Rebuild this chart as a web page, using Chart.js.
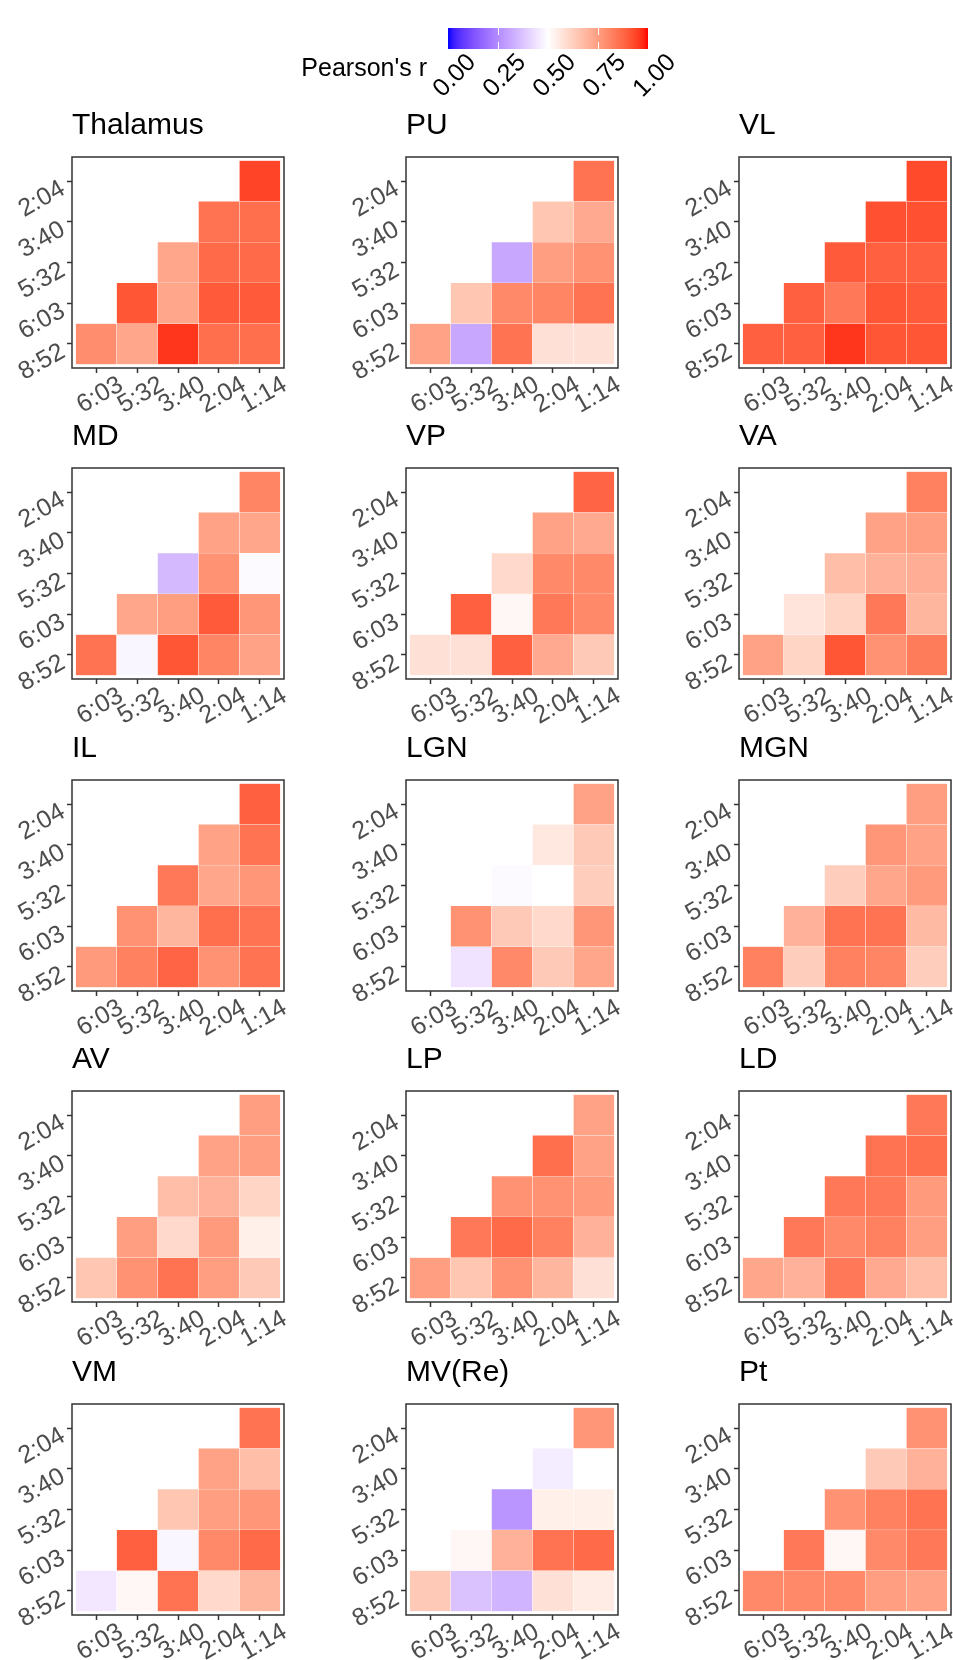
<!DOCTYPE html>
<html>
<head>
<meta charset="utf-8">
<script src="https://cdn.jsdelivr.net/npm/chart.js@4.4.3/dist/chart.umd.min.js"></script>
<style>
  html, body { margin: 0; padding: 0; background: #fff; overflow: hidden; }
  body { width: 953px; height: 1660px; position: relative; }
  canvas { position: absolute; }
</style>
</head>
<body>
<canvas id="legend" width="400" height="110"></canvas>
<div id="panels"></div>
<script>
  /* ── Data ─────────────────────────────────────────────────────────────── */
  const xLabels = ["6:03", "5:32", "3:40", "2:04", "1:14"];
  const yLabels = ["8:52", "6:03", "5:32", "3:40", "2:04"];
  const regions = ["Thalamus", "PU", "VL", "MD", "VP", "VA", "IL", "LGN", "MGN",
                   "AV", "LP", "LD", "VM", "MV(Re)", "Pt"];

  // cells per region, row by row from 8:52 (5 cells) up to 2:04 (1 cell), left to right
  const thalamus = [0.79, 0.73, 0.96, 0.86, 0.86,  0.91, 0.73, 0.90, 0.90,  0.73, 0.87, 0.87,  0.85, 0.86,  0.94];
  const pu       = [0.74, 0.31, 0.85, 0.58, 0.58,  0.65, 0.80, 0.81, 0.85,  0.31, 0.75, 0.78,  0.65, 0.72,  0.85];
  const vl       = [0.89, 0.89, 0.96, 0.91, 0.91,  0.89, 0.84, 0.91, 0.90,  0.90, 0.89, 0.89,  0.92, 0.92,  0.93];
  const md       = [0.85, 0.48, 0.91, 0.81, 0.74,  0.73, 0.75, 0.90, 0.77,  0.35, 0.78, 0.49,  0.74, 0.73,  0.81];
  const vp       = [0.58, 0.58, 0.89, 0.72, 0.64,  0.89, 0.52, 0.84, 0.80,  0.60, 0.80, 0.80,  0.74, 0.72,  0.88];
  const va       = [0.74, 0.61, 0.91, 0.78, 0.83,  0.57, 0.61, 0.84, 0.69,  0.67, 0.70, 0.71,  0.74, 0.75,  0.82];
  const il       = [0.76, 0.82, 0.88, 0.78, 0.85,  0.78, 0.69, 0.86, 0.85,  0.84, 0.73, 0.77,  0.74, 0.85,  0.89];
  const lgn      = [0.50, 0.44, 0.80, 0.64, 0.73,  0.78, 0.64, 0.60, 0.77,  0.49, 0.50, 0.63,  0.56, 0.64,  0.74];
  const mgn      = [0.82, 0.63, 0.82, 0.81, 0.63,  0.70, 0.85, 0.85, 0.68,  0.63, 0.73, 0.76,  0.77, 0.74,  0.75];
  const av       = [0.65, 0.78, 0.85, 0.75, 0.64,  0.75, 0.60, 0.76, 0.54,  0.67, 0.70, 0.61,  0.74, 0.75,  0.75];
  const lp       = [0.75, 0.65, 0.78, 0.69, 0.58,  0.84, 0.87, 0.82, 0.70,  0.78, 0.78, 0.76,  0.86, 0.74,  0.74];
  const ld       = [0.73, 0.70, 0.84, 0.72, 0.67,  0.84, 0.80, 0.82, 0.75,  0.84, 0.84, 0.76,  0.85, 0.86,  0.84];
  const vm       = [0.45, 0.52, 0.85, 0.60, 0.69,  0.89, 0.48, 0.80, 0.87,  0.65, 0.75, 0.77,  0.74, 0.67,  0.85];
  const mvre     = [0.64, 0.37, 0.34, 0.58, 0.55,  0.52, 0.70, 0.85, 0.87,  0.27, 0.54, 0.54,  0.46, 0.50,  0.77];
  const pt       = [0.80, 0.80, 0.80, 0.75, 0.74,  0.84, 0.52, 0.80, 0.84,  0.78, 0.82, 0.85,  0.64, 0.70,  0.78];

  const panelValues = [thalamus, pu, vl, md, vp, va, il, lgn, mgn, av, lp, ld, vm, mvre, pt];
  const legendTicks = [0, 0.25, 0.5, 0.75, 1];

  /* ── Colour scale: blue → white → red, interpolated in Lab ──────────── */
  const FONT = "'Liberation Sans', Arial, sans-serif";

  function toLin(c) { c /= 255; return c <= 0.04045 ? c / 12.92 : Math.pow((c + 0.055) / 1.055, 2.4); }
  function toSrgb(c) {
    c = c <= 0.0031308 ? 12.92 * c : 1.055 * Math.pow(c, 1 / 2.4) - 0.055;
    return Math.round(255 * Math.min(1, Math.max(0, c)));
  }
  function rgbToLab(rgb) {
    const [r, g, b] = rgb.map(toLin);
    const x = (0.4124564 * r + 0.3575761 * g + 0.1804375 * b) / 0.95047;
    const y = 0.2126729 * r + 0.7151522 * g + 0.0721750 * b;
    const z = (0.0193339 * r + 0.1191920 * g + 0.9503041 * b) / 1.08883;
    const f = (t) => (t > 0.008856 ? Math.cbrt(t) : 7.787 * t + 16 / 116);
    return [116 * f(y) - 16, 500 * (f(x) - f(y)), 200 * (f(y) - f(z))];
  }
  function labToRgb([L, a, bb]) {
    const fy = (L + 16) / 116, fx = fy + a / 500, fz = fy - bb / 200;
    const inv = (t) => (t * t * t > 0.008856 ? t * t * t : (t - 16 / 116) / 7.787);
    const x = inv(fx) * 0.95047, y = inv(fy), z = inv(fz) * 1.08883;
    const r = 3.2404542 * x - 1.5371385 * y - 0.4985314 * z;
    const g = -0.9692660 * x + 1.8760108 * y + 0.0415560 * z;
    const b = 0.0556434 * x - 0.2040259 * y + 1.0572252 * z;
    return [toSrgb(r), toSrgb(g), toSrgb(b)];
  }
  const LAB_WHITE = rgbToLab([255, 255, 255]);
  const LAB_RED   = rgbToLab([255, 0, 0]);
  const LAB_BLUE  = rgbToLab([0, 0, 255]);

  function colorFor(v) {
    const end = v >= 0.5 ? LAB_RED : LAB_BLUE;
    const t = Math.min(1, Math.abs(v - 0.5) / 0.5);
    const lab = LAB_WHITE.map((w, i) => w + (end[i] - w) * t);
    const [r, g, b] = labToRgb(lab);
    return `rgb(${r},${g},${b})`;
  }

  /* ── Panel frame plugin ──────────────────────────────────────────────── */
  const framePlugin = {
    id: "frame",
    afterDraw(chart) {
      const { ctx, chartArea: a } = chart;
      ctx.save();
      ctx.strokeStyle = "#333333";
      ctx.lineWidth = 1.5;
      ctx.strokeRect(a.left, a.top, a.right - a.left, a.bottom - a.top);
      ctx.restore();
    },
  };

  /* ── Panels ──────────────────────────────────────────────────────────── */
  const COL_LEFT = [72, 406, 739];
  const ROW_TOP  = [157, 468, 780, 1091, 1404];
  const AXIS_W = 72, TITLE_H = 50, PLOT_W = 212, PLOT_H = 211, XAXIS_H = 60;

  function mkPanel(idx) {
    const col = idx % 3, row = Math.floor(idx / 3);
    const canvas = document.createElement("canvas");
    canvas.width  = AXIS_W + PLOT_W + 14;
    canvas.height = TITLE_H + PLOT_H + XAXIS_H;
    canvas.style.left = (COL_LEFT[col] - AXIS_W) + "px";
    canvas.style.top  = (ROW_TOP[row] - TITLE_H) + "px";
    document.getElementById("panels").appendChild(canvas);

    const vals = panelValues[idx];
    const cells = [];
    let k = 0;
    for (let r = 0; r < yLabels.length; r++) {
      for (let c = r; c < xLabels.length; c++) {
        cells.push({ x: c, y: [r - 0.5, r + 0.5], v: vals[k++] });
      }
    }

    const tickFont = { family: FONT, size: 25 };
    const axisCommon = {
      type: "linear",
      min: -0.59,
      max: 4.59,
      offset: false,
      afterBuildTicks: (s) => { s.ticks = [0, 1, 2, 3, 4].map((v) => ({ value: v })); },
      grid: {
        display: true, drawOnChartArea: false, drawTicks: true, offset: false,
        tickLength: 5, color: "#333333", tickColor: "#333333", tickWidth: 1.5,
      },
      border: { display: false },
    };

    new Chart(canvas, {
      type: "bar",
      data: {
        datasets: [{
          data: cells,
          backgroundColor: cells.map((d) => colorFor(d.v)),
          borderColor: "rgba(255,255,255,0.3)",
          borderWidth: 0.5,
          borderSkipped: false,
          barPercentage: 1,
          categoryPercentage: 1,
        }],
      },
      options: {
        responsive: false,
        animation: false,
        devicePixelRatio: 1,
        layout: { padding: { left: 0, right: 14, top: 0, bottom: 0 } },
        plugins: {
          legend: { display: false },
          tooltip: { enabled: false },
          title: {
            display: true, text: regions[idx], align: "start", fullSize: false,
            color: "#000000", font: { family: FONT, size: 30, weight: "normal" },
            padding: { top: 1, bottom: 13 },
          },
        },
        scales: {
          x: {
            ...axisCommon,
            afterFit: (s) => { s.height = XAXIS_H; },
            ticks: {
              autoSkip: false, minRotation: 30, maxRotation: 30,
              labelOffset: 25, padding: -3, color: "#4D4D4D", font: tickFont,
              callback: (v) => xLabels[v],
            },
          },
          y: {
            ...axisCommon,
            afterFit: (s) => { s.width = AXIS_W; },
            ticks: {
              autoSkip: false, minRotation: 30, maxRotation: 30,
              labelOffset: 6, padding: 4, color: "#4D4D4D", font: tickFont,
              callback: (v) => yLabels[v],
            },
          },
        },
      },
      plugins: [framePlugin],
    });
  }

  regions.forEach((_, i) => mkPanel(i));

  /* ── Colour bar legend ───────────────────────────────────────────────── */
  const legendCanvas = document.getElementById("legend");
  legendCanvas.style.left = "300px";
  legendCanvas.style.top = "0px";

  const barTicksPlugin = {
    id: "barTicks",
    afterDatasetsDraw(chart) {
      const { ctx, chartArea: a, scales } = chart;
      ctx.save();
      ctx.strokeStyle = "#ffffff";
      ctx.lineWidth = 1;
      legendTicks.slice(1, -1).forEach((t) => {
        const px = Math.round(scales.x.getPixelForValue(t)) + 0.5;
        ctx.beginPath();
        ctx.moveTo(px, a.top); ctx.lineTo(px, a.top + 7);
        ctx.moveTo(px, a.bottom - 7); ctx.lineTo(px, a.bottom);
        ctx.stroke();
      });
      ctx.restore();
    },
  };

  new Chart(legendCanvas, {
    type: "bar",
    data: {
      labels: ["Pearson's r"],
      datasets: [{
        data: [[0, 1]],
        borderWidth: 0,
        barPercentage: 1,
        categoryPercentage: 1,
        backgroundColor: (ctx) => {
          const a = ctx.chart.chartArea;
          if (!a) return "#fff";
          const g = ctx.chart.ctx.createLinearGradient(a.left, 0, a.right, 0);
          for (let i = 0; i <= 40; i++) g.addColorStop(i / 40, colorFor(i / 40));
          return g;
        },
      }],
    },
    options: {
      indexAxis: "y",
      responsive: false,
      animation: false,
      devicePixelRatio: 1,
      layout: { padding: { left: 0, right: 52, top: 9, bottom: 0 } },
      plugins: { legend: { display: false }, tooltip: { enabled: false } },
      scales: {
        x: {
          type: "linear", min: 0, max: 1, offset: false,
          afterBuildTicks: (s) => { s.ticks = legendTicks.map((v) => ({ value: v })); },
          afterFit: (s) => { s.height = 61; },
          grid: { display: false },
          border: { display: false },
          ticks: {
            autoSkip: false, minRotation: 45, maxRotation: 45, labelOffset: 24, padding: -9,
            color: "#000000", font: { family: FONT, size: 25 },
            callback: (v) => v.toFixed(2),
          },
        },
        y: {
          afterFit: (s) => { s.width = 148; },
          grid: { display: false },
          border: { display: false },
          ticks: {
            labelOffset: 31, padding: 13, color: "#000000",
            font: { family: FONT, size: 25 },
          },
        },
      },
    },
    plugins: [barTicksPlugin],
  });
</script>
</body>
</html>
